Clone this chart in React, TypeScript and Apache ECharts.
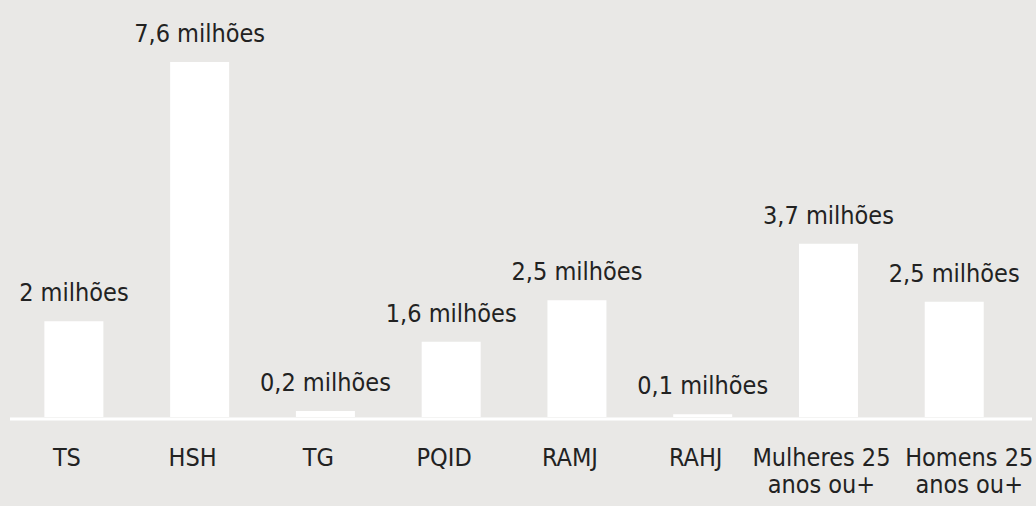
import React, { useEffect, useRef } from "react";
import * as echarts from "echarts";

const categories = ["TS", "HSH", "TG", "PQID", "RAMJ", "RAHJ", "Mulheres 25\nanos ou+", "Homens 25\nanos ou+"];
const values = [2.05, 7.6, 0.13, 1.61, 2.5, 0.06, 3.71, 2.47];
const valueLabels = ["2 milhões", "7,6 milhões", "0,2 milhões", "1,6 milhões", "2,5 milhões", "0,1 milhões", "3,7 milhões", "2,5 milhões"];

const FONT = "'DejaVu Sans Condensed', 'Liberation Sans Narrow', 'DejaVu Sans', sans-serif";
const BG = "#e9e8e6";
const TEXT = "#222222";

export default function App() {
  const ref = useRef<HTMLDivElement>(null);
  useEffect(() => {
    if (!ref.current) return;
    const chart = echarts.init(ref.current, null, { renderer: "svg" });
    chart.setOption({
      animation: false,
      backgroundColor: BG,
      grid: { left: 11, right: 14, top: 62, bottom: 89, containLabel: false },
      xAxis: {
        type: "category",
        data: categories.map((c, i) => ({
          value: c,
          textStyle: i === categories.length - 1 ? { padding: [0, 0, 0, 30] } : { padding: [0, 14, 0, 0] },
        })),
        axisLine: { show: false },
        axisTick: { show: false },
        axisLabel: {
          interval: 0,
          margin: 27,
          color: TEXT,
          fontFamily: FONT,
          fontSize: 25,
          lineHeight: 27,
        },
      },
      yAxis: {
        type: "value",
        min: 0,
        max: 7.6,
        show: false,
        splitLine: { show: false },
      },
      graphic: [
        {
          type: "line",
          shape: { x1: 10, y1: 419, x2: 1032, y2: 419 },
          style: { stroke: "#ffffff", lineWidth: 3 },
          z: 10,
        },
      ],
      series: [
        {
          type: "bar",
          data: values,
          barWidth: 59,
          itemStyle: { color: "#ffffff" },
          label: {
            show: true,
            position: "top",
            distance: 16,
            color: TEXT,
            fontFamily: FONT,
            fontSize: 25,
            formatter: (p: any) => valueLabels[p.dataIndex],
          },
        },
      ],
    });
    return () => chart.dispose();
  }, []);
  return (
    <div
      ref={ref}
      style={{ position: "absolute", left: 0, top: 0, width: 1036, height: 506 }}
    />
  );
}
